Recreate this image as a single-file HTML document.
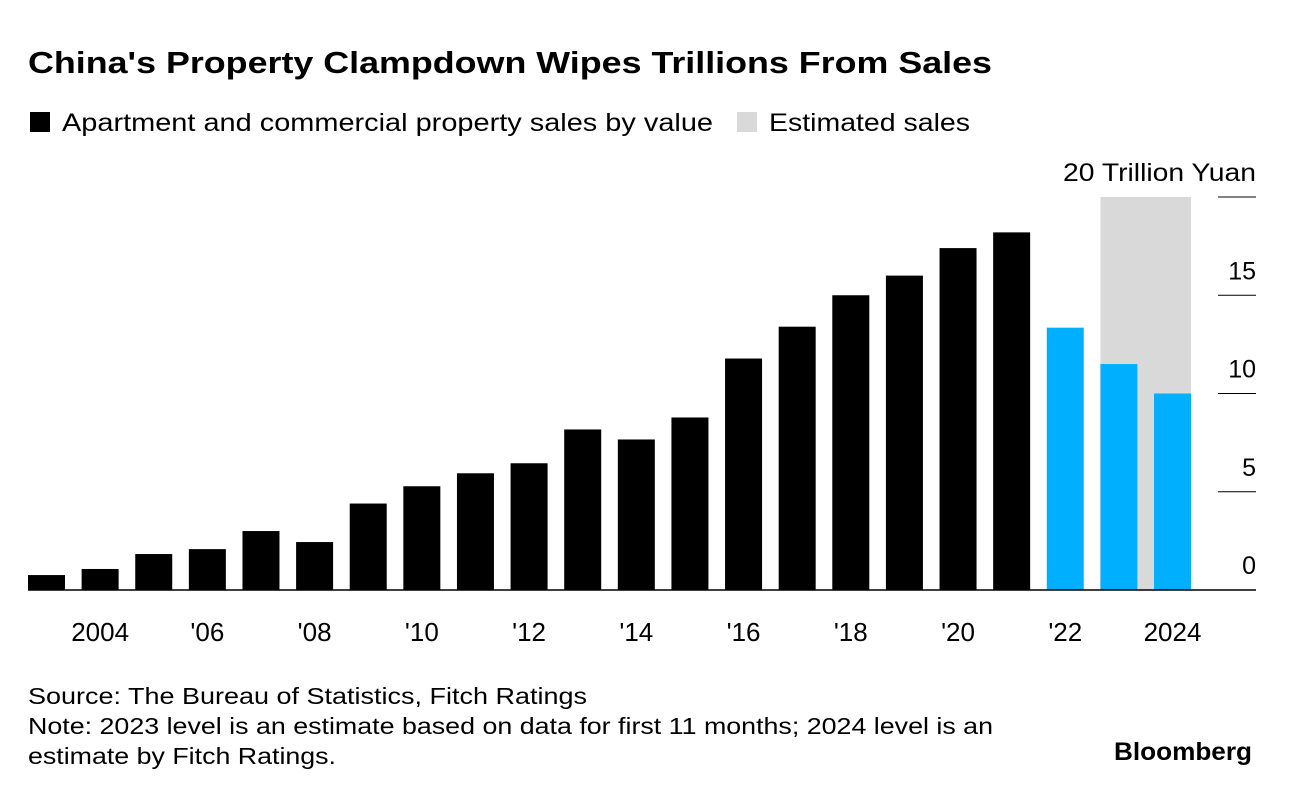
<!DOCTYPE html>
<html><head><meta charset="utf-8"><style>
body{margin:0;background:#fff;width:1292px;height:796px;overflow:hidden;font-family:"Liberation Sans",Arial,sans-serif;}
svg text{font-family:"Liberation Sans",Arial,sans-serif;}
</style></head><body>
<svg width="1292" height="796">
<text x="28" y="73" font-size="31" font-weight="bold" fill="#000" textLength="964" lengthAdjust="spacingAndGlyphs">China's Property Clampdown Wipes Trillions From Sales</text>
<g>
<rect x="30" y="112" width="20" height="20" fill="#000"/>
<text x="62" y="131" font-size="25" fill="#000" textLength="651" lengthAdjust="spacingAndGlyphs">Apartment and commercial property sales by value</text>
<rect x="737" y="112" width="20" height="20" fill="#d9d9d9"/>
<text x="769" y="131" font-size="25" fill="#000" textLength="201" lengthAdjust="spacingAndGlyphs">Estimated sales</text>
</g>
<g id="plot"></g>
<text x="28" y="704" font-size="23" fill="#000" textLength="559" lengthAdjust="spacingAndGlyphs">Source: The Bureau of Statistics, Fitch Ratings</text>
<text x="28" y="734" font-size="23" fill="#000" textLength="965" lengthAdjust="spacingAndGlyphs">Note: 2023 level is an estimate based on data for first 11 months; 2024 level is an</text>
<text x="28" y="764" font-size="23" fill="#000" textLength="308" lengthAdjust="spacingAndGlyphs">estimate by Fitch Ratings.</text>
<text x="1114" y="760" font-size="25" font-weight="bold" fill="#000" textLength="138" lengthAdjust="spacingAndGlyphs">Bloomberg</text>
</svg>
<script>
const years=[2003,2004,2005,2006,2007,2008,2009,2010,2011,2012,2013,2014,2015,2016,2017,2018,2019,2020,2021,2022,2023,2024];
const sales=[0.76,1.07,1.83,2.08,3.0,2.44,4.4,5.28,5.94,6.45,8.17,7.66,8.78,11.78,13.4,15.0,16.0,17.4,18.2,13.35,11.5,10.0];
const highlighted=[2022,2023,2024];
const estimatedYears=[2023,2024];
const yTicks=[0,5,10,15,20];
const xLabelYears=[2004,2006,2008,2010,2012,2014,2016,2018,2020,2022,2024];
const xLabelText=["2004","'06","'08","'10","'12","'14","'16","'18","'20","'22","2024"];
const NS="http://www.w3.org/2000/svg";
const g=document.getElementById('plot');
const y0=590,yTop=197,yMax=20;
const yS=v=>y0-(v/yMax)*(y0-yTop);
const step=53.62,bw=37,x0=28;
const xS=yr=>x0+(yr-years[0])*step;
function mk(t,a){const e=document.createElementNS(NS,t);for(const k in a)e.setAttribute(k,a[k]);g.appendChild(e);return e;}
const eMin=Math.min(...estimatedYears),eMax=Math.max(...estimatedYears);
let band=mk('rect',{x:xS(eMin),y:yS(yMax),width:xS(eMax)+bw-xS(eMin),height:y0-yS(yMax),fill:'#d9d9d9'});


yTicks.forEach(v=>{
 const yy=yS(v);
 if(v>0){let l=mk('line',{x1:1218,x2:1256,y1:yy,y2:yy,stroke:'#000','stroke-width':1});
 
 }
 let t=mk('text',{x:1256,y:yy-16,'font-size':25,'text-anchor':'end',fill:'#000'});
 t.textContent=v===yMax?v+' Trillion Yuan':String(v);
 if(v===yMax){t.setAttribute('textLength','193');t.setAttribute('lengthAdjust','spacingAndGlyphs');}
 
 
});
years.forEach((yr,i)=>{
 let r=mk('rect',{x:xS(yr),y:yS(sales[i]),width:bw,height:y0-yS(sales[i]),fill:highlighted.includes(yr)?'#00b0ff':'#000'});
 
 
});
let base=mk('line',{x1:28,x2:1256,y1:y0,y2:y0,stroke:'#000','stroke-width':1.5});


xLabelYears.forEach((yr,i)=>{
 let t=mk('text',{x:xS(yr)+bw/2,y:641,'font-size':26,'text-anchor':'middle',fill:'#000'});
 t.textContent=xLabelText[i];
 
 
});
</script>
</body></html>
